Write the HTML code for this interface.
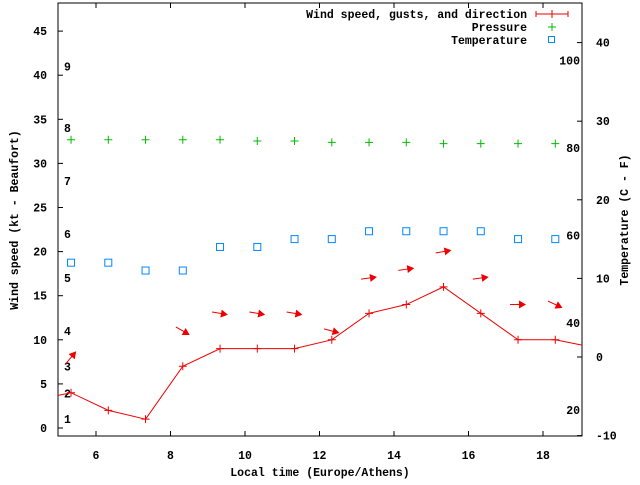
<!DOCTYPE html>
<html><head><meta charset="utf-8"><style>
body{margin:0;background:#fff}
svg text{font-family:"Liberation Mono",monospace;font-size:11.5px;font-weight:bold;fill:#000}
</style></head><body>
<svg id="c" width="640" height="480" xmlns="http://www.w3.org/2000/svg"></svg>
<script>
const times=[5.33,6.33,7.33,8.33,9.33,10.33,11.33,12.33,13.33,14.33,15.33,16.33,17.33,18.33];
const wind=[4,2,1,7,9,9,9,10,13,14,16,13,10,10];
const windStart=3.7, windEnd=9.4;
const gust=[8,null,null,11,13,13,13,11,17,18,20,17,14,14];
const dirAngle=[-50,null,null,30,10,10,10,15,-8,-8,-10,-8,0,25];
const pressure=[81.9,81.9,81.9,81.9,81.9,81.6,81.6,81.3,81.3,81.3,81.0,81.0,81.0,81.0];
const temp=[12,12,11,11,14,14,15,15,16,16,16,16,15,15];
const xTicks=[6,8,10,12,14,16,18];
const yTicks=[0,5,10,15,20,25,30,35,40,45];
const tTicks=[-10,0,10,20,30,40];
const pTicks=[20,40,60,80,100];
const bft=[[1,1],[2,3.9],[3,7],[4,11],[5,17],[6,22],[7,28],[8,34],[9,41]];
const L=58,R=582,T=3,B=436;
const X=v=>96+(v-6)*37.25;
const Y=v=>428-v*8.82;
const TY=v=>357-v*7.86;
const PY=v=>148-(v-80)*4.37;
const svg=document.getElementById('c');
const NS='http://www.w3.org/2000/svg';
function el(tag,attrs,name,txt){const e=document.createElementNS(NS,tag);for(const k in attrs)e.setAttribute(k,attrs[k]);


if(txt!==undefined)e.textContent=txt;svg.appendChild(e);return e;}
el('rect',{x:L,y:T,width:R-L,height:B-T,fill:'none',stroke:'#000','stroke-width':1},'plot-border');
xTicks.forEach(v=>{const x=X(v);
el('line',{x1:x,y1:B,x2:x,y2:B-5,stroke:'#000'},'x-tick');
el('line',{x1:x,y1:T,x2:x,y2:T+5,stroke:'#000'},'x-tick-top');
el('text',{x:x,y:459,'text-anchor':'middle'},'x-tick-label',v);});
yTicks.forEach(v=>{const y=Y(v);
el('line',{x1:L,y1:y,x2:L+5,y2:y,stroke:'#000'},'y-tick');
el('text',{x:47,y:y+4,'text-anchor':'end'},'y-tick-label',v);});
tTicks.forEach(v=>{const y=TY(v);
el('line',{x1:R,y1:y,x2:R-5,y2:y,stroke:'#000'},'temp-tick');
el('text',{x:596,y:y+4},'temp-tick-label',v);});
pTicks.forEach(v=>{el('text',{x:580,y:PY(v)+4,'text-anchor':'end'},'pressure-label',v);});
bft.forEach(b=>{el('text',{x:64,y:Y(b[1])+4},'beaufort-label',b[0]);});
el('text',{x:320,y:476,'text-anchor':'middle'},'x-axis-title','Local time (Europe/Athens)');
el('text',{x:18,y:220,'text-anchor':'middle',transform:'rotate(-90 18 220)'},'y-axis-title','Wind speed (kt - Beaufort)');
el('text',{x:628,y:220,'text-anchor':'middle',transform:'rotate(-90 628 220)'},'y2-axis-title','Temperature (C - F)');
// wind line
let pts=[[L,Y(windStart)]].concat(times.map((t,i)=>[X(t),Y(wind[i])])).concat([[R,Y(windEnd)]]);
el('polyline',{points:pts.map(p=>p.join(',')).join(' '),fill:'none',stroke:'#e00','stroke-width':1},'wind-line');
times.forEach((t,i)=>{const x=X(t),y=Y(wind[i]);
el('path',{d:`M${x-4},${y}h8M${x},${y-4}v8`,stroke:'#e00'},'wind-point');});
// arrows
times.forEach((t,i)=>{if(gust[i]===null)return;const cx=X(t),cy=Y(gust[i]),a=dirAngle[i]*Math.PI/180;
const dx=Math.cos(a),dy=Math.sin(a);const x1=cx-8*dx,y1=cy-8*dy,x2=cx+8*dx,y2=cy+8*dy;
el('line',{x1:x1,y1:y1,x2:x2-4*dx,y2:y2-4*dy,stroke:'#e00'},'wind-direction-arrow');
const px=-dy,py=dx;
el('polygon',{points:`${x2},${y2} ${x2-7*dx+4*px},${y2-7*dy+4*py} ${x2-7*dx-4*px},${y2-7*dy-4*py}`,fill:'#e00'},'wind-arrow-head');});
pressure.forEach((p,i)=>{const x=X(times[i]),y=PY(p);
el('path',{d:`M${x-4},${y}h8M${x},${y-4}v8`,stroke:'#0b0'},'pressure-point');});
temp.forEach((v,i)=>{const x=X(times[i]),y=TY(v);
el('rect',{x:x-3.5,y:y-3.5,width:7,height:7,fill:'none',stroke:'#08f'},'temperature-point');});
// legend
el('text',{x:527,y:18,'text-anchor':'end'},'legend-wind-label','Wind speed, gusts, and direction');
el('path',{d:'M536,14h32M536,11v6M568,11v6M552,10v8',stroke:'#e00'},'legend-wind-symbol');
el('text',{x:527,y:31,'text-anchor':'end'},'legend-pressure-label','Pressure');
el('path',{d:'M548,27h8M552,23v8',stroke:'#0b0'},'legend-pressure-symbol');
el('text',{x:527,y:44,'text-anchor':'end'},'legend-temperature-label','Temperature');
el('rect',{x:548.5,y:36.5,width:6,height:6,fill:'none',stroke:'#08f'},'legend-temperature-symbol');
</script>
</body></html>
